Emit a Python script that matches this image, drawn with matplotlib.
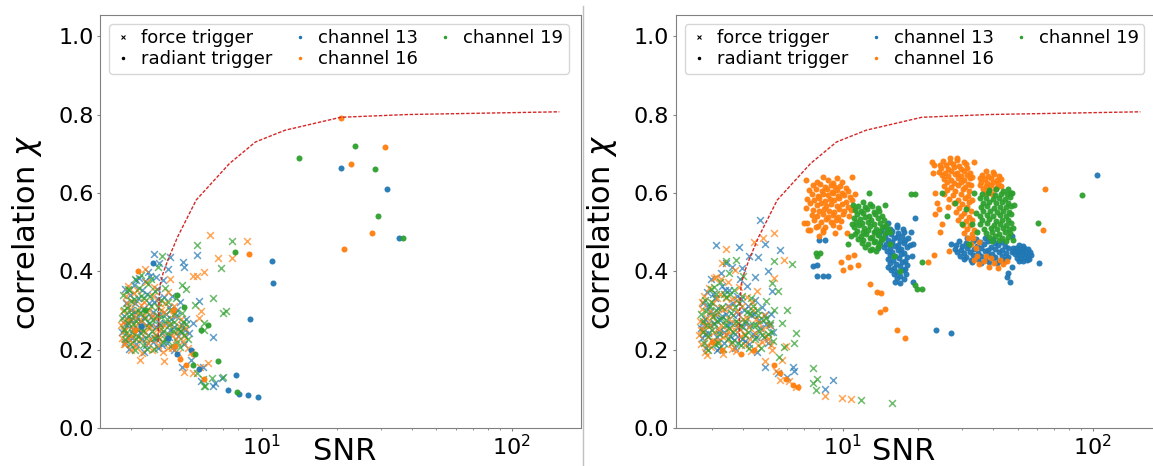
import numpy as np
import matplotlib
matplotlib.use("Agg")
import matplotlib.pyplot as plt
from matplotlib.lines import Line2D

# reference curve (same in both panels)
curve_snr = [3.85, 3.87, 3.92, 4.03, 4.22, 4.61, 5.47, 7.43, 9.44, 12.4, 20.7, 38.3, 155]
curve_chi = [0.22, 0.30, 0.365, 0.395, 0.43, 0.488, 0.582, 0.675, 0.73, 0.76, 0.793, 0.80, 0.807]

channels = ["channel 13", "channel 16", "channel 19"]
colors = ["tab:blue", "tab:orange", "tab:green"]

# ---------------- left panel: (SNR, correlation) ----------------
force13_L = [
    (2.77, 0.244), (2.8, 0.287), (2.83, 0.219), (2.87, 0.318), (2.9, 0.262), (2.94, 0.201), (2.97, 0.339),
    (3.0, 0.276), (3.03, 0.231), (3.07, 0.364), (3.1, 0.297), (3.13, 0.214), (3.16, 0.253), (3.2, 0.331),
    (3.23, 0.382), (3.27, 0.272), (3.31, 0.227), (3.35, 0.305), (3.39, 0.195), (3.43, 0.262), (3.47, 0.343),
    (3.52, 0.237), (3.56, 0.389), (3.61, 0.284), (3.66, 0.219), (3.71, 0.321), (3.76, 0.259), (3.81, 0.356),
    (3.86, 0.204), (3.92, 0.291), (3.98, 0.243), (4.04, 0.377), (4.1, 0.268), (4.17, 0.217), (4.24, 0.309),
    (4.31, 0.251), (4.39, 0.338), (4.47, 0.199), (4.55, 0.286), (4.63, 0.235), (4.72, 0.321), (4.81, 0.262),
    (4.9, 0.215), (5.0, 0.279), (5.1, 0.242), (3.5, 0.398), (3.15, 0.378), (2.85, 0.355),
    (2.84, 0.266), (2.92, 0.232), (2.99, 0.302), (3.05, 0.252), (3.12, 0.318), (3.18, 0.282), (3.25, 0.245),
    (3.32, 0.352), (3.38, 0.281), (3.45, 0.213), (3.53, 0.318), (3.6, 0.262), (3.68, 0.296), (3.74, 0.231),
    (3.84, 0.328), (3.9, 0.268), (4.0, 0.212), (4.07, 0.335), (4.14, 0.291), (4.26, 0.232), (4.35, 0.279),
    (4.44, 0.258), (4.6, 0.302), (4.7, 0.247), (4.95, 0.251), (3.42, 0.374), (3.78, 0.386), (2.96, 0.278),
    (3.7, 0.443), (4.3, 0.436), (4.85, 0.424), (4.87, 0.41), (5.5, 0.441), (5.6, 0.323), (5.3, 0.267),
    (6.4, 0.233), (4.8, 0.156), (5.8, 0.156), (6.5, 0.116), (6.4, 0.107), (6.95, 0.128), (5.2, 0.173),
    (5.7, 0.12), (3.9, 0.42), (4.2, 0.405),
]
force16_L = [
    (2.74, 0.262), (2.76, 0.231), (2.79, 0.298), (2.81, 0.247), (2.84, 0.214), (2.86, 0.336), (2.88, 0.276),
    (2.91, 0.362), (2.93, 0.229), (2.96, 0.305), (2.99, 0.198), (3.02, 0.258), (3.05, 0.322), (3.08, 0.241),
    (3.11, 0.283), (3.14, 0.207), (3.18, 0.351), (3.21, 0.268), (3.25, 0.226), (3.29, 0.313), (3.33, 0.191),
    (3.37, 0.289), (3.41, 0.246), (3.45, 0.372), (3.5, 0.216), (3.54, 0.301), (3.58, 0.259), (3.63, 0.198),
    (3.68, 0.338), (3.73, 0.238), (3.78, 0.282), (3.84, 0.211), (3.9, 0.318), (3.96, 0.252), (4.02, 0.194),
    (4.08, 0.297), (4.15, 0.233), (4.22, 0.346), (4.3, 0.265), (4.38, 0.205), (4.46, 0.312), (4.55, 0.243),
    (4.64, 0.192), (4.74, 0.278), (4.84, 0.221), (4.95, 0.256), (5.05, 0.205), (3.26, 0.173), (4.06, 0.171),
    (2.78, 0.271), (2.85, 0.249), (2.9, 0.318), (2.97, 0.275), (3.04, 0.218), (3.09, 0.344), (3.16, 0.297),
    (3.23, 0.252), (3.31, 0.273), (3.39, 0.322), (3.47, 0.259), (3.56, 0.228), (3.64, 0.287), (3.71, 0.361),
    (3.8, 0.252), (3.88, 0.227), (3.94, 0.302), (4.05, 0.262), (4.12, 0.318), (4.2, 0.205), (4.33, 0.238),
    (4.42, 0.289), (4.52, 0.226), (4.68, 0.261), (4.9, 0.234), (3.0, 0.236), (2.8, 0.214),
    (6.2, 0.492), (8.7, 0.477), (6.7, 0.433), (7.6, 0.433), (5.9, 0.397), (5.5, 0.389), (5.3, 0.389),
    (5.7, 0.299), (5.6, 0.282), (5.3, 0.14), (5.67, 0.156), (6.1, 0.165), (4.9, 0.144), (5.2, 0.195),
    (4.3, 0.38), (3.4, 0.405),
]
force19_L = [
    (2.75, 0.281), (2.78, 0.339), (2.82, 0.253), (2.85, 0.226), (2.89, 0.307), (2.92, 0.268), (2.95, 0.352),
    (2.98, 0.215), (3.01, 0.291), (3.04, 0.246), (3.08, 0.329), (3.12, 0.198), (3.15, 0.273), (3.19, 0.236),
    (3.22, 0.358), (3.26, 0.294), (3.3, 0.254), (3.34, 0.212), (3.38, 0.333), (3.42, 0.281), (3.46, 0.229),
    (3.51, 0.367), (3.55, 0.267), (3.6, 0.311), (3.65, 0.248), (3.7, 0.201), (3.75, 0.349), (3.8, 0.288),
    (3.86, 0.232), (3.91, 0.262), (3.97, 0.326), (4.03, 0.219), (4.09, 0.358), (4.16, 0.279), (4.23, 0.241),
    (4.3, 0.301), (4.37, 0.213), (4.45, 0.271), (4.53, 0.333), (4.61, 0.252), (4.7, 0.208), (4.79, 0.294),
    (4.88, 0.238), (4.98, 0.266), (5.08, 0.226), (3.3, 0.39), (3.85, 0.41),
    (2.8, 0.3), (2.87, 0.242), (2.94, 0.286), (3.0, 0.323), (3.06, 0.265), (3.13, 0.226), (3.2, 0.302),
    (3.28, 0.338), (3.36, 0.248), (3.44, 0.298), (3.49, 0.201), (3.58, 0.338), (3.66, 0.276), (3.72, 0.229),
    (3.83, 0.309), (3.95, 0.283), (4.01, 0.248), (4.12, 0.226), (4.2, 0.322), (4.27, 0.262), (4.4, 0.248),
    (4.5, 0.294), (4.58, 0.219), (4.75, 0.248), (4.85, 0.271), (3.1, 0.38), (3.6, 0.38),
    (7.6, 0.477), (5.5, 0.467), (6.9, 0.409), (4.0, 0.44), (6.4, 0.333), (7.0, 0.293), (7.2, 0.299),
    (5.9, 0.269), (5.9, 0.25), (5.4, 0.314), (5.0, 0.356), (4.8, 0.365), (2.91, 0.356), (5.5, 0.14),
    (5.8, 0.124), (5.9, 0.106), (6.3, 0.128), (7.0, 0.129), (5.95, 0.107),
]
rad13_L = [
    (20.8, 0.664), (31.7, 0.611), (35.5, 0.486), (11.0, 0.427), (11.1, 0.369), (9.0, 0.278), (7.9, 0.135),
    (8.1, 0.087), (8.8, 0.083), (9.7, 0.078), (7.35, 0.097), (3.67, 0.42), (3.3, 0.26), (4.2, 0.23),
    (5.2, 0.2), (5.6, 0.15), (4.6, 0.19),
]
rad16_L = [
    (31.2, 0.718), (22.7, 0.673), (27.6, 0.497), (21.4, 0.458), (20.8, 0.79), (8.9, 0.444), (5.3, 0.19),
    (4.7, 0.175), (5.0, 0.16), (5.9, 0.125), (3.1, 0.25), (4.4, 0.3), (3.2, 0.40), (4.5, 0.21),
]
rad19_L = [
    (14.1, 0.69), (23.5, 0.72), (28.3, 0.66), (29.3, 0.542), (36.6, 0.484), (7.8, 0.45), (6.7, 0.171),
    (7.97, 0.091), (5.7, 0.25), (6.1, 0.262), (5.4, 0.19), (4.6, 0.34), (3.4, 0.3), (5.3, 0.16), (4.9, 0.31),
]

# ---------------- right panel ----------------
force13_R = [
    (2.7, 0.256), (2.73, 0.229), (2.77, 0.318), (2.8, 0.278), (2.83, 0.205), (2.87, 0.347), (2.9, 0.242),
    (2.94, 0.296), (2.97, 0.381), (3.01, 0.223), (3.05, 0.269), (3.09, 0.333), (3.13, 0.198), (3.17, 0.306),
    (3.21, 0.248), (3.25, 0.395), (3.3, 0.285), (3.34, 0.217), (3.39, 0.351), (3.44, 0.263), (3.49, 0.312),
    (3.54, 0.234), (3.59, 0.412), (3.65, 0.289), (3.7, 0.205), (3.76, 0.338), (3.82, 0.257), (3.88, 0.381),
    (3.94, 0.226), (4.01, 0.302), (4.08, 0.267), (4.15, 0.362), (4.22, 0.214), (4.3, 0.289), (4.38, 0.241),
    (4.46, 0.327), (4.55, 0.195), (4.64, 0.276), (4.73, 0.308), (4.83, 0.233), (4.93, 0.265), (5.04, 0.218),
    (5.15, 0.291), (5.26, 0.246), (3.95, 0.408), (4.45, 0.385),
    (2.75, 0.268), (2.82, 0.241), (2.88, 0.312), (2.95, 0.262), (3.02, 0.341), (3.08, 0.288), (3.15, 0.232),
    (3.22, 0.275), (3.28, 0.362), (3.36, 0.246), (3.42, 0.291), (3.5, 0.351), (3.57, 0.267), (3.64, 0.318),
    (3.72, 0.241), (3.8, 0.292), (3.9, 0.329), (3.98, 0.258), (4.06, 0.221), (4.18, 0.312), (4.27, 0.262),
    (4.42, 0.29), (4.5, 0.232), (4.68, 0.255), (4.88, 0.288), (5.1, 0.262), (3.2, 0.205), (3.66, 0.225),
    (3.1, 0.467), (3.85, 0.462), (4.65, 0.53), (4.9, 0.469), (5.6, 0.455), (4.6, 0.437), (3.4, 0.42),
    (4.2, 0.44), (5.0, 0.4), (5.2, 0.35), (4.9, 0.156), (6.3, 0.156), (6.4, 0.145), (9.1, 0.122),
    (8.5, 0.1), (5.5, 0.14), (6.0, 0.13),
]
force16_R = [
    (2.65, 0.238), (2.68, 0.272), (2.71, 0.214), (2.73, 0.303), (2.76, 0.251), (2.79, 0.337), (2.82, 0.193),
    (2.85, 0.281), (2.88, 0.232), (2.91, 0.358), (2.95, 0.264), (2.98, 0.208), (3.02, 0.318), (3.06, 0.246),
    (3.1, 0.386), (3.14, 0.291), (3.18, 0.223), (3.22, 0.341), (3.27, 0.262), (3.31, 0.189), (3.36, 0.305),
    (3.41, 0.238), (3.46, 0.372), (3.51, 0.277), (3.56, 0.215), (3.62, 0.328), (3.67, 0.253), (3.73, 0.196),
    (3.79, 0.298), (3.85, 0.361), (3.91, 0.236), (3.98, 0.279), (4.05, 0.212), (4.12, 0.335), (4.2, 0.258),
    (4.28, 0.197), (4.36, 0.301), (4.45, 0.242), (4.54, 0.349), (4.63, 0.268), (4.73, 0.219), (4.83, 0.288),
    (4.94, 0.236), (5.05, 0.262), (5.16, 0.211), (2.86, 0.186), (3.3, 0.42), (3.7, 0.402),
    (2.7, 0.25), (2.74, 0.322), (2.8, 0.262), (2.87, 0.212), (2.93, 0.298), (3.0, 0.283), (3.08, 0.222),
    (3.13, 0.332), (3.2, 0.253), (3.26, 0.307), (3.33, 0.232), (3.4, 0.331), (3.48, 0.248), (3.55, 0.309),
    (3.6, 0.202), (3.7, 0.268), (3.78, 0.326), (3.88, 0.252), (3.95, 0.311), (4.03, 0.241), (4.15, 0.282),
    (4.25, 0.228), (4.34, 0.322), (4.5, 0.277), (4.6, 0.213), (4.78, 0.252), (5.0, 0.228), (3.25, 0.38),
    (4.4, 0.474), (5.3, 0.497), (4.8, 0.484), (5.8, 0.43), (5.3, 0.382), (3.42, 0.456), (3.06, 0.383),
    (5.7, 0.173), (5.6, 0.122), (6.5, 0.105), (8.5, 0.082), (9.9, 0.076), (10.8, 0.075), (5.4, 0.145),
    (6.1, 0.12), (4.9, 0.17), (5.2, 0.2), (5.9, 0.21),
]
force19_R = [
    (2.72, 0.291), (2.75, 0.244), (2.79, 0.218), (2.82, 0.327), (2.86, 0.263), (2.89, 0.199), (2.93, 0.311),
    (2.96, 0.354), (3.0, 0.251), (3.03, 0.287), (3.07, 0.215), (3.11, 0.343), (3.15, 0.273), (3.19, 0.239),
    (3.23, 0.372), (3.28, 0.308), (3.32, 0.201), (3.37, 0.262), (3.42, 0.334), (3.47, 0.228), (3.52, 0.396),
    (3.57, 0.294), (3.63, 0.245), (3.68, 0.352), (3.74, 0.273), (3.8, 0.216), (3.86, 0.318), (3.92, 0.261),
    (3.99, 0.389), (4.06, 0.238), (4.13, 0.297), (4.2, 0.205), (4.28, 0.331), (4.36, 0.263), (4.44, 0.226),
    (4.53, 0.302), (4.62, 0.247), (4.71, 0.205), (4.81, 0.276), (4.91, 0.324), (5.02, 0.239), (5.13, 0.268),
    (5.24, 0.223), (5.3, 0.3), (3.4, 0.425), (3.75, 0.43),
    (2.77, 0.272), (2.84, 0.298), (2.9, 0.235), (2.98, 0.322), (3.05, 0.266), (3.12, 0.301), (3.17, 0.218),
    (3.25, 0.282), (3.34, 0.342), (3.4, 0.276), (3.5, 0.255), (3.55, 0.342), (3.62, 0.219), (3.72, 0.308),
    (3.82, 0.268), (3.9, 0.212), (3.96, 0.338), (4.08, 0.272), (4.16, 0.245), (4.25, 0.293), (4.38, 0.311),
    (4.48, 0.262), (4.58, 0.288), (4.75, 0.238), (4.95, 0.281), (5.15, 0.245), (3.05, 0.36),
    (5.3, 0.426), (6.25, 0.418), (5.7, 0.267), (6.5, 0.242), (6.4, 0.216), (5.8, 0.207), (5.55, 0.182),
    (7.6, 0.152), (7.9, 0.124), (7.6, 0.114), (7.8, 0.097), (11.8, 0.071), (15.7, 0.063), (5.5, 0.35),
    (5.2, 0.37), (6.0, 0.3),
]
rad13_R = [
    # cluster near SNR 16
    (15.2, 0.522), (16.4, 0.519), (14.6, 0.512), (15.5, 0.509), (16.5, 0.513), (17.4, 0.507),
    (14.2, 0.502), (15.0, 0.499), (15.8, 0.504), (16.7, 0.497), (17.6, 0.501),
    (14.0, 0.492), (14.8, 0.489), (15.6, 0.494), (16.4, 0.487), (17.3, 0.491), (18.2, 0.486),
    (14.4, 0.482), (15.2, 0.479), (16.0, 0.484), (16.9, 0.477), (17.8, 0.481),
    (14.1, 0.472), (14.9, 0.469), (15.7, 0.474), (16.6, 0.467), (17.5, 0.471), (18.5, 0.466),
    (14.6, 0.462), (15.4, 0.459), (16.2, 0.464), (17.1, 0.457), (18.0, 0.461),
    (15.0, 0.452), (15.8, 0.449), (16.7, 0.454), (17.6, 0.447),
    (15.4, 0.442), (16.2, 0.439), (17.1, 0.444), (18.0, 0.437),
    (15.1, 0.432), (15.9, 0.429), (16.8, 0.434), (17.7, 0.427),
    (15.5, 0.422), (16.3, 0.419), (17.2, 0.424), (18.1, 0.417),
    (15.2, 0.412), (16.0, 0.409), (16.9, 0.414), (17.8, 0.407),
    (15.6, 0.402), (16.5, 0.399), (17.4, 0.404), (16.0, 0.392), (16.9, 0.389), (17.9, 0.394),
    (16.4, 0.383), (17.5, 0.38),
    (13.5, 0.5), (19.1, 0.47), (19.0, 0.44), (13.8, 0.46), (18.7, 0.5), (19.5, 0.537), (17.0, 0.37),
    (16.2, 0.372), (7.9, 0.388), (8.3, 0.387), (8.7, 0.388), (7.9, 0.416), (8.5, 0.481), (7.6, 0.413),
    (8.0, 0.481), (19.1, 0.373), (23.5, 0.25), (27.2, 0.242), (104, 0.645), (61.1, 0.422),
    # wide cluster near SNR 35
    (31.5, 0.485), (34.0, 0.483), (37.0, 0.486), (40.0, 0.482),
    (29.2, 0.476), (31.0, 0.473), (33.2, 0.477), (35.5, 0.474), (38.0, 0.478), (40.6, 0.472), (43.2, 0.475),
    (28.3, 0.467), (30.1, 0.464), (32.1, 0.468), (34.3, 0.465), (36.6, 0.469), (39.1, 0.463), (41.7, 0.467),
    (44.4, 0.464),
    (28.0, 0.458), (29.6, 0.455), (31.5, 0.459), (33.6, 0.456), (35.8, 0.46), (38.2, 0.454), (40.7, 0.458),
    (43.4, 0.455), (46.0, 0.459),
    (28.6, 0.449), (30.4, 0.446), (32.4, 0.45), (34.6, 0.447), (37.0, 0.451), (39.5, 0.445), (42.1, 0.449),
    (44.8, 0.446), (47.3, 0.45),
    (29.3, 0.44), (31.2, 0.437), (33.3, 0.441), (35.6, 0.438), (38.0, 0.442), (40.6, 0.436), (43.3, 0.44),
    (46.0, 0.437),
    (30.5, 0.431), (32.6, 0.428), (34.8, 0.432), (37.2, 0.429), (39.7, 0.433), (42.3, 0.427), (45.0, 0.431),
    (33.0, 0.423), (35.7, 0.42), (38.6, 0.424), (41.5, 0.421), (44.5, 0.425),
    (45.5, 0.385), (46.5, 0.372), (47.5, 0.41), (46.0, 0.395), (27.2, 0.47), (48.0, 0.46), (47.5, 0.49),
    # small cluster near SNR 52
    (50.5, 0.467), (52.5, 0.465), (49.2, 0.459), (51.0, 0.457), (53.0, 0.46), (55.0, 0.456),
    (48.5, 0.451), (50.3, 0.449), (52.2, 0.452), (54.2, 0.448), (56.0, 0.45),
    (49.0, 0.443), (50.8, 0.441), (52.8, 0.444), (54.8, 0.44), (56.5, 0.442),
    (49.6, 0.435), (51.5, 0.433), (53.5, 0.436), (55.4, 0.432), (50.8, 0.427), (52.8, 0.425), (54.6, 0.428),
]
rad16_R = [
    # cluster near SNR 9
    (8.3, 0.641), (9.5, 0.637), (7.9, 0.628), (8.7, 0.632), (9.1, 0.626), (9.9, 0.629),
    (7.6, 0.619), (8.1, 0.622), (8.5, 0.616), (8.95, 0.621), (9.35, 0.614), (9.75, 0.618), (10.3, 0.612),
    (7.3, 0.607), (7.8, 0.611), (8.25, 0.604), (8.65, 0.609), (9.05, 0.603), (9.5, 0.607), (9.95, 0.601),
    (10.45, 0.605),
    (7.5, 0.596), (7.95, 0.592), (8.35, 0.598), (8.75, 0.594), (9.15, 0.599), (9.6, 0.591), (10.1, 0.595),
    (10.65, 0.589),
    (7.2, 0.585), (7.7, 0.582), (8.05, 0.587), (8.45, 0.579), (8.85, 0.584), (9.25, 0.581), (9.7, 0.586),
    (10.3, 0.578), (10.85, 0.583),
    (7.4, 0.573), (7.85, 0.569), (8.2, 0.575), (8.6, 0.567), (9.0, 0.572), (9.45, 0.566), (9.9, 0.571),
    (10.5, 0.565),
    (7.15, 0.561), (7.6, 0.557), (8.0, 0.553), (8.4, 0.559), (8.8, 0.555), (9.2, 0.551), (9.65, 0.558),
    (10.15, 0.553), (10.75, 0.557),
    (7.5, 0.544), (7.9, 0.541), (8.3, 0.546), (8.7, 0.539), (9.1, 0.543), (9.55, 0.538), (10.0, 0.545),
    (10.55, 0.54),
    (7.7, 0.531), (8.15, 0.527), (8.55, 0.533), (9.0, 0.526), (9.4, 0.531), (9.85, 0.528),
    (7.95, 0.516), (8.5, 0.512), (9.1, 0.518), (9.7, 0.514),
    (8.3, 0.501), (9.3, 0.498), (7.0, 0.522), (7.25, 0.506), (11.2, 0.598), (11.0, 0.56), (10.9, 0.641),
    (7.15, 0.632), (10.4, 0.497), (8.0, 0.489),
    # cluster near SNR 28 with tail
    (26.8, 0.69), (28.7, 0.688), (25.2, 0.681), (26.9, 0.679), (28.6, 0.683), (30.4, 0.678),
    (24.4, 0.672), (25.9, 0.67), (27.5, 0.674), (29.2, 0.669), (31.0, 0.673),
    (24.8, 0.663), (26.3, 0.661), (27.9, 0.665), (29.6, 0.66), (31.4, 0.664),
    (24.2, 0.654), (25.6, 0.652), (27.1, 0.656), (28.7, 0.651), (30.4, 0.655), (32.2, 0.65),
    (24.9, 0.645), (26.4, 0.643), (28.0, 0.647), (29.7, 0.642), (31.5, 0.646), (33.0, 0.641),
    (25.5, 0.636), (27.1, 0.634), (28.8, 0.638), (30.6, 0.633), (32.4, 0.637),
    (26.2, 0.627), (27.9, 0.625), (29.7, 0.629), (31.6, 0.624),
    (25.4, 0.618), (27.2, 0.616), (29.0, 0.62), (30.9, 0.615), (32.6, 0.619),
    (26.0, 0.607), (28.1, 0.605), (30.2, 0.609), (32.1, 0.604),
    (25.3, 0.596), (27.6, 0.594), (29.6, 0.598), (31.6, 0.593),
    (26.6, 0.585), (28.8, 0.583), (30.9, 0.587), (32.8, 0.582),
    (27.9, 0.574), (29.9, 0.572), (32.0, 0.576), (26.4, 0.563), (29.1, 0.561), (31.3, 0.565),
    (28.3, 0.552), (30.6, 0.55), (32.6, 0.554), (29.6, 0.541), (31.9, 0.539),
    (28.8, 0.53), (31.0, 0.528), (33.0, 0.532), (30.2, 0.519), (32.3, 0.517),
    (31.3, 0.508), (33.4, 0.506), (30.6, 0.497), (32.8, 0.495), (31.8, 0.486),
    (23.0, 0.65), (23.4, 0.6), (23.8, 0.575), (23.3, 0.545), (23.2, 0.67), (22.8, 0.68), (33.5, 0.68),
    (24.5, 0.5), (25.0, 0.52), (24.3, 0.56),
    # small cluster near SNR 39
    (37.5, 0.655), (39.8, 0.653), (36.0, 0.646), (38.0, 0.644), (40.2, 0.647), (42.0, 0.643),
    (35.3, 0.637), (37.2, 0.635), (39.2, 0.638), (41.3, 0.634), (43.0, 0.636),
    (35.8, 0.628), (37.8, 0.626), (39.8, 0.629), (41.8, 0.625),
    (35.4, 0.619), (37.3, 0.617), (39.3, 0.62), (41.4, 0.616), (42.8, 0.618),
    (36.3, 0.61), (38.4, 0.608), (40.5, 0.611), (37.4, 0.6), (39.6, 0.598),
    # points below the blue cluster
    (33.5, 0.43), (35.2, 0.418), (36.8, 0.425), (38.4, 0.412), (40.1, 0.421), (41.9, 0.409), (43.6, 0.418),
    (45.2, 0.426), (37.5, 0.44), (42.5, 0.43), (34.5, 0.44), (39.3, 0.435),
    (32.5, 0.47), (34.0, 0.46), (33.3, 0.485), (35.0, 0.475),
    # scattered
    (64.3, 0.609), (63.2, 0.505), (16.4, 0.25), (17.7, 0.23), (14.1, 0.297), (14.8, 0.305), (14.2, 0.345),
    (12.9, 0.367), (13.7, 0.346), (7.2, 0.522), (7.4, 0.505), (10.0, 0.403), (10.7, 0.412), (11.5, 0.416),
    (11.1, 0.441), (10.5, 0.437), (21.9, 0.424), (23.1, 0.441), (26.5, 0.452), (9.8, 0.424), (8.3, 0.505),
    (7.8, 0.512),
    (5.6, 0.14), (5.9, 0.125), (6.3, 0.11), (6.6, 0.105), (5.3, 0.16), (3.3, 0.2), (3.9, 0.19), (4.4, 0.2),
    (3.0, 0.22),
]
rad19_R = [
    # cluster near SNR 12.5
    (12.0, 0.576), (12.9, 0.572), (11.5, 0.566), (12.3, 0.563), (13.1, 0.567), (13.8, 0.561),
    (11.2, 0.556), (11.8, 0.553), (12.5, 0.558), (13.3, 0.552), (14.0, 0.555),
    (11.4, 0.545), (12.0, 0.548), (12.7, 0.542), (13.5, 0.547), (14.3, 0.541),
    (11.1, 0.536), (11.7, 0.533), (12.3, 0.538), (13.0, 0.531), (13.8, 0.535), (14.6, 0.53),
    (11.3, 0.525), (11.9, 0.522), (12.6, 0.527), (13.3, 0.52), (14.1, 0.524), (14.9, 0.519),
    (11.1, 0.514), (11.6, 0.517), (12.2, 0.511), (12.9, 0.515), (13.6, 0.509), (14.4, 0.513), (15.2, 0.508),
    (11.4, 0.504), (12.0, 0.501), (12.6, 0.506), (13.3, 0.499), (14.0, 0.503), (14.8, 0.497),
    (11.2, 0.494), (11.8, 0.49), (12.4, 0.495), (13.1, 0.488), (13.8, 0.492), (14.5, 0.486),
    (11.5, 0.483), (12.1, 0.479), (12.8, 0.484), (13.5, 0.477), (14.2, 0.481),
    (11.9, 0.473), (12.6, 0.469), (13.3, 0.474), (14.0, 0.467),
    (12.3, 0.462), (13.1, 0.458), (13.8, 0.463), (12.8, 0.455), (13.6, 0.451),
    (10.9, 0.52), (10.8, 0.49), (15.4, 0.5), (15.5, 0.47), (11.0, 0.57), (14.7, 0.57), (12.7, 0.601),
    (18.7, 0.597), (19.4, 0.596), (7.8, 0.446), (7.9, 0.439), (8.1, 0.446), (20.7, 0.356), (19.5, 0.365),
    (19.8, 0.356), (10.5, 0.47), (16.0, 0.44), (17.0, 0.4), (20.8, 0.424), (90.5, 0.594), (60.1, 0.524),
    # tall cluster near SNR 41
    (38.5, 0.608), (41.0, 0.61), (43.6, 0.606), (46.0, 0.609),
    (36.0, 0.597), (38.2, 0.599), (40.5, 0.595), (43.0, 0.598), (45.3, 0.596), (47.0, 0.6),
    (35.4, 0.586), (37.5, 0.588), (39.8, 0.584), (42.2, 0.587), (44.6, 0.585), (46.8, 0.589),
    (36.3, 0.575), (38.6, 0.577), (41.0, 0.573), (43.4, 0.576), (45.8, 0.574),
    (35.6, 0.564), (37.8, 0.566), (40.1, 0.562), (42.5, 0.565), (44.9, 0.563), (46.9, 0.567),
    (36.5, 0.553), (38.9, 0.555), (41.3, 0.551), (43.8, 0.554), (46.2, 0.552),
    (35.3, 0.542), (37.6, 0.544), (40.0, 0.54), (42.4, 0.543), (44.8, 0.541), (47.1, 0.545),
    (36.2, 0.531), (38.5, 0.533), (40.9, 0.529), (43.3, 0.532), (45.7, 0.53),
    (35.5, 0.52), (37.7, 0.522), (40.2, 0.518), (42.6, 0.521), (45.0, 0.519), (46.9, 0.523),
    (36.6, 0.509), (39.0, 0.511), (41.5, 0.507), (43.9, 0.51), (46.2, 0.508),
    (37.3, 0.498), (39.6, 0.5), (42.0, 0.496), (44.5, 0.499), (46.7, 0.497),
    (38.4, 0.487), (40.8, 0.489), (43.2, 0.485), (45.6, 0.488), (39.5, 0.477), (42.3, 0.479), (44.9, 0.476),
    (33.5, 0.6), (34.0, 0.55), (33.0, 0.52), (48.5, 0.57), (48.0, 0.51), (47.5, 0.6), (34.5, 0.5),
    (31.0, 0.56), (28.0, 0.575), (26.0, 0.54), (25.0, 0.6), (30.0, 0.52), (32.0, 0.47), (48.0, 0.48),
]


def xy(pts):
    a = np.array(pts)
    return a[:, 0], a[:, 1]


fig = plt.figure(figsize=(11.53, 4.66), dpi=100)
ax1 = fig.add_axes([0.0867, 0.0815, 0.4172, 0.8863])
ax2 = fig.add_axes([0.5859, 0.0815, 0.4172, 0.8863])

panels = [
    (ax1, [force13_L, force16_L, force19_L], [rad13_L, rad16_L, rad19_L], (2.254, 189.2), 0.509),
    (ax2, [force13_R, force16_R, force19_R], [rad13_R, rad16_R, rad19_R], (2.143, 179.9), 0.474),
]

handles = [
    Line2D([], [], ls="", marker="x", color="k", ms=3, mew=0.8),
    Line2D([], [], ls="", marker=".", color="k", ms=3),
] + [Line2D([], [], ls="", marker=".", color=c, ms=3) for c in colors]
labels = ["force trigger", "radiant trigger"] + channels

for ax, force, rad, xlim, snr_x in panels:
    for pts, c in zip(force, colors):
        x, y = xy(pts)
        ax.scatter(x, y, marker="x", s=24, color=c, alpha=0.7, linewidths=1.1)
    for pts, c in zip(rad, colors):
        x, y = xy(pts)
        ax.scatter(x, y, marker=".", s=75, color=c, alpha=0.95, linewidths=0)
    ax.plot(curve_snr, curve_chi, color="#d62728", lw=1, dashes=(2.5, 1.2), zorder=5)

    ax.set_xscale("log")
    ax.set_xlim(*xlim)
    ax.set_ylim(0, 1.054)
    ax.set_yticks([0, 0.2, 0.4, 0.6, 0.8, 1.0])
    ax.tick_params(which="major", labelsize=16, length=2.5, pad=2, color="#808080")
    ax.tick_params(which="minor", length=1.5, color="#808080")
    for sp in ax.spines.values():
        sp.set_color("#808080")

    ax.set_xlabel("SNR", fontsize=22)
    ax.xaxis.set_label_coords(snr_x, -0.022)
    ax.set_ylabel(r"correlation $\chi$", fontsize=22)
    ax.yaxis.set_label_coords(-0.117, 0.475)

    ax.legend(handles, labels, ncol=3, loc="upper left", fontsize=13, handlelength=1.0,
              handletextpad=0.5, labelspacing=0.15, borderpad=0.3, columnspacing=1.0)

# thin separator between the two panels
fig.add_artist(Line2D([583 / 1153, 583 / 1153], [1 - 6 / 466, 1 - 465 / 466],
                      transform=fig.transFigure, color="#c0c0c0", lw=1))

fig.savefig("out.png", dpi=100)
